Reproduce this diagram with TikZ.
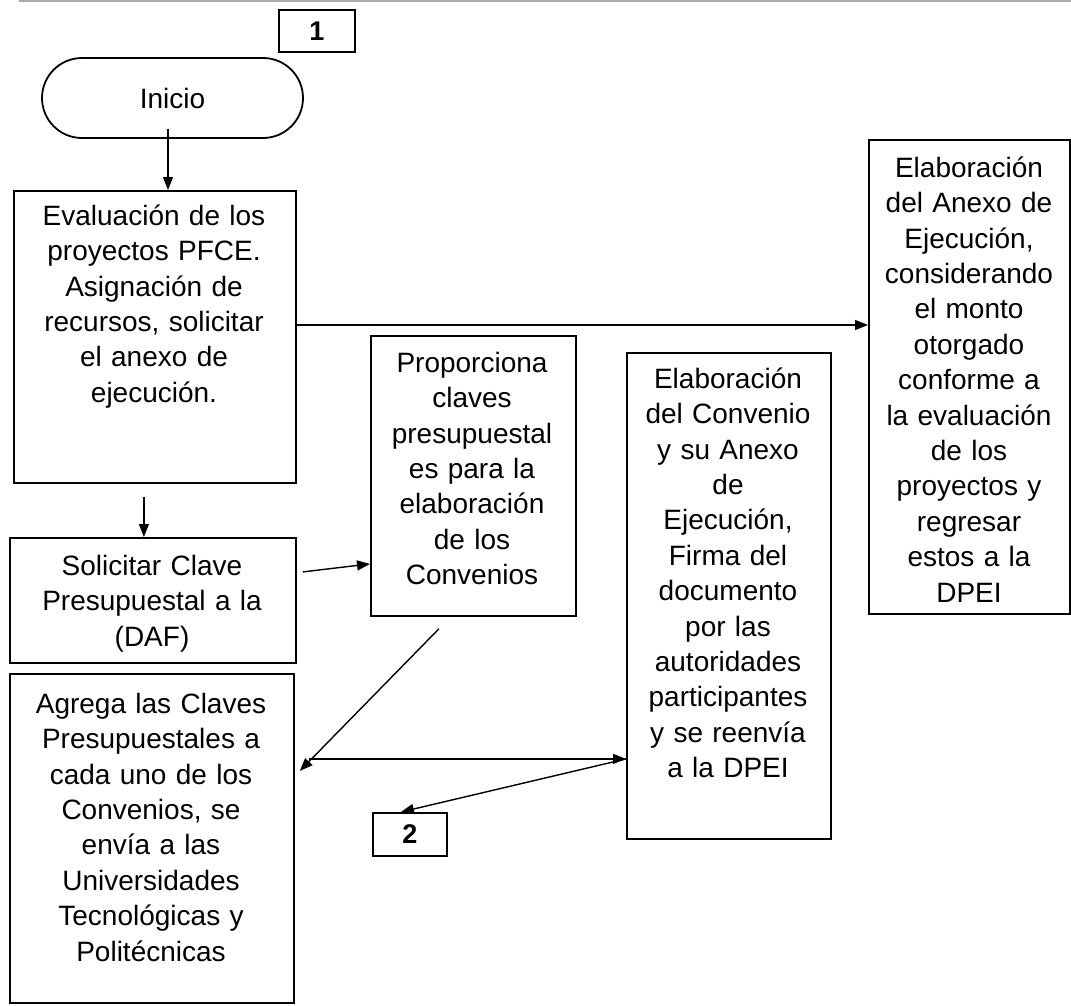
\documentclass[tikz,border=0pt]{standalone}
\usepackage{fontspec}
\setmainfont{Liberation Sans}
\usetikzlibrary{arrows.meta,calc,shapes.misc}
\begin{document}
\begin{tikzpicture}[x=1pt,y=-1pt,
  pbox/.style={draw=black,line width=1.8pt,rectangle,inner sep=0pt,anchor=north west},
  ptxt/.style={inner sep=0pt,anchor=north,align=center,text width=260pt,font=\fontsize{28}{35.4}\selectfont},
  pnum/.style={pbox,font=\fontsize{27}{30}\selectfont\bfseries},
  parrow/.style={draw=black,line width=1.4pt,-{Triangle[length=13pt,width=10pt]}},
]
\useasboundingbox (0,0) rectangle (1071,1005);
\draw[line width=1.5pt,color={rgb,255:red,170;green,170;blue,170}] (19,1) -- (1071,1);

% numbered connectors
\node[pnum,minimum width=76pt,minimum height=42pt] (b1) at (278,9) {1};
\node[pnum,minimum width=74pt,minimum height=43pt] (b2) at (372,812) {2};

% start
\node[draw=black,line width=1.8pt,rounded rectangle,minimum width=261pt,minimum height=80pt,
      inner sep=0pt,font=\fontsize{28}{34}\selectfont] (inicio) at (172.5,98) {Inicio};

% boxes
\node[pbox,minimum width=282pt,minimum height=292pt] (eval) at (13,190) {};
\node[ptxt] (evalt) at (154,199) {\rule{0pt}{26pt}Evaluación de los\\proyectos PFCE.\\Asignación de\\recursos, solicitar\\el anexo de\\ejecución.};

\node[pbox,minimum width=286pt,minimum height=125pt] (solic) at (9,537) {};
\node[ptxt] (solict) at (152,549) {\rule{0pt}{26pt}Solicitar Clave\\Presupuestal a la\\(DAF)};

\node[pbox,minimum width=284pt,minimum height=329pt] (agrega) at (9,673) {};
\node[ptxt] (agregat) at (151,687) {\rule{0pt}{26pt}Agrega las Claves\\Presupuestales a\\cada uno de los\\Convenios, se\\envía a las\\Universidades\\Tecnológicas y\\Politécnicas};

\node[pbox,minimum width=205pt,minimum height=280pt] (prop) at (370,335) {};
\node[ptxt] (propt) at (472,346) {\rule{0pt}{26pt}Proporciona\\claves\\presupuestal\\es para la\\elaboración\\de los\\Convenios};

\node[pbox,minimum width=204pt,minimum height=486pt] (conv) at (626,352) {};
\node[ptxt] (convt) at (728,362) {\rule{0pt}{26pt}Elaboración\\del Convenio\\y su Anexo\\de\\Ejecución,\\Firma del\\documento\\por las\\autoridades\\participantes\\y se reenvía\\a la DPEI};

\node[pbox,minimum width=201pt,minimum height=474pt] (right) at (868,139) {};
\node[ptxt] (rightt) at (969,151) {\rule{0pt}{26pt}Elaboración\\del Anexo de\\Ejecución,\\considerando\\el monto\\otorgado\\conforme a\\la evaluación\\de los\\proyectos y\\regresar\\estos a la\\DPEI};

% connectors
\coordinate (i1) at ($(inicio.south)+(-4.5,-10)$);
\draw[parrow] (i1) -- (i1 |- eval.north);
\coordinate (s1) at ($(eval.south)+(-11,13)$);
\draw[parrow] (s1) -- (s1 |- solic.north);
\coordinate (e1) at ($(eval.north east)+(0,135)$);
\draw[parrow] (e1) -- (e1 -| right.west);
\draw[parrow] ($(solic.east)+(6,-28.5)$) -- ($(prop.west)+(0,88)$);
\draw[parrow] ($(prop.south)+(-34.5,12)$) -- ($(agrega.east)+(5,-67.5)$);
\coordinate (cv) at ($(conv.west)+(0,163)$);
\draw[parrow] ($(agrega.east)+(14,-79.5)$) -- (cv);
\draw[parrow] (cv) -- ($(b2.north)+(-9,0)$);
\end{tikzpicture}
\end{document}
